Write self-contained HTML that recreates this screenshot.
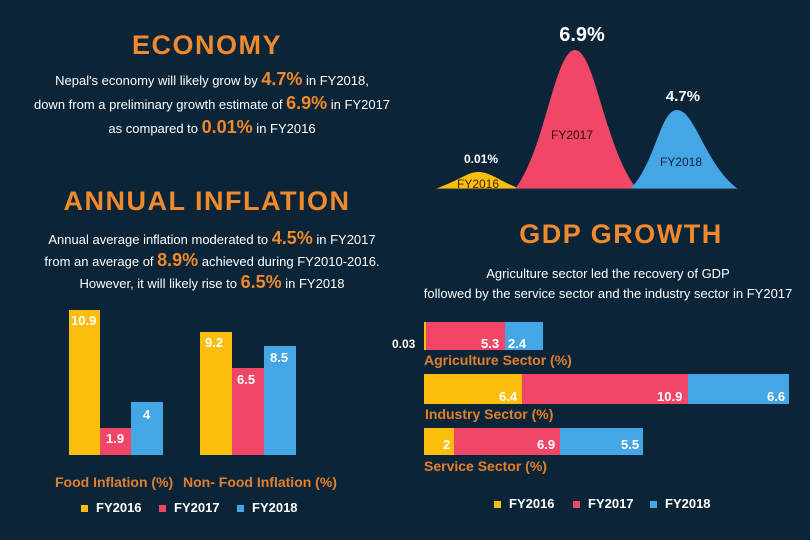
<!DOCTYPE html><html><head><style>
body{margin:0;width:810px;height:540px;background:#0c2437;font-family:"Liberation Sans",sans-serif;position:relative;overflow:hidden;color:#fff}
.a{position:absolute;white-space:nowrap}
.t{font-weight:bold;color:#f08a2c;font-size:27px;letter-spacing:1.5px;transform:translateX(-50%)}
.p{font-size:13px;transform:translateX(-50%);text-align:center}
.h{color:#f08a2c;font-weight:bold;font-size:18px}
.b{position:absolute}
.v{position:absolute;font-weight:bold;font-size:13px;color:#fff}
.c{color:#e0802e;font-weight:bold;font-size:14px}
.lg{font-weight:bold;font-size:13px}
.sq{display:inline-block;width:7px;height:7px;margin-right:8px}
</style></head><body>
<div class="a t" style="left:207px;top:30px">ECONOMY</div>
<div class="a p" style="left:212px;top:68px;line-height:22px">Nepal's economy will likely grow by <span class="h">4.7%</span> in FY2018,<br>down from a preliminary growth estimate of <span class="h">6.9%</span> in FY2017<br>as compared to <span class="h">0.01%</span> in FY2016</div>
<div class="a t" style="left:207px;top:186px">ANNUAL INFLATION</div>
<div class="a p" style="left:212px;top:228px;line-height:21px">Annual average inflation moderated to <span class="h">4.5%</span> in FY2017<br>from an average of <span class="h">8.9%</span> achieved during FY2010-2016.<br>However, it will likely rise to <span class="h">6.5%</span> in FY2018</div>

<div class="b" style="left:69px;top:310px;width:31px;height:145px;background:#fdbd0c"></div>
<div class="b" style="left:100px;top:428px;width:31px;height:27px;background:#f04766"></div>
<div class="b" style="left:131px;top:402px;width:32px;height:53px;background:#45a6e6"></div>
<div class="b" style="left:200px;top:332px;width:32px;height:123px;background:#fdbd0c"></div>
<div class="b" style="left:232px;top:368px;width:32px;height:87px;background:#f04766"></div>
<div class="b" style="left:264px;top:346px;width:32px;height:109px;background:#45a6e6"></div>
<div class="v" style="left:71px;top:313px">10.9</div>
<div class="v" style="left:106px;top:431px">1.9</div>
<div class="v" style="left:143px;top:407px">4</div>
<div class="v" style="left:205px;top:335px">9.2</div>
<div class="v" style="left:237px;top:372px">6.5</div>
<div class="v" style="left:270px;top:350px">8.5</div>
<div class="a c" style="left:55px;top:474px">Food Inflation (%)</div>
<div class="a c" style="left:183px;top:474px">Non- Food Inflation (%)</div>
<div class="a lg" style="left:81px;top:500px"><span class="sq" style="background:#fdbd0c"></span>FY2016</div>
<div class="a lg" style="left:159px;top:500px"><span class="sq" style="background:#f04766"></span>FY2017</div>
<div class="a lg" style="left:237px;top:500px"><span class="sq" style="background:#45a6e6"></span>FY2018</div>

<svg class="b" style="left:0;top:0" width="810" height="540">
<path d="M435 189 C460 180,468 172,478 172 C490 172,498 180,520 189Z" fill="#fdbd0c"/>
<path d="M515 189 C545 150,555 50,575 50 C595 50,605 150,637 189Z" fill="#f04766"/>
<path d="M630 189 C655 165,660 110,677 110 C695 110,705 165,738 189Z" fill="#45a6e6"/>
<line x1="435" y1="189" x2="738" y2="189" stroke="#1b3348" stroke-width="1"/>
</svg>
<div class="a" style="left:582px;top:24px;transform:translateX(-50%);font-weight:bold;font-size:20px">6.9%</div>
<div class="a" style="left:683px;top:88px;transform:translateX(-50%);font-weight:bold;font-size:15px">4.7%</div>
<div class="a" style="left:481px;top:152px;transform:translateX(-50%);font-weight:bold;font-size:12px">0.01%</div>
<div class="a" style="left:572px;top:128px;transform:translateX(-50%);font-size:12px;color:#2a0c14">FY2017</div>
<div class="a" style="left:681px;top:155px;transform:translateX(-50%);font-size:12px;color:#0b2336">FY2018</div>
<div class="a" style="left:478px;top:177px;transform:translateX(-50%);font-size:12px;color:#3a2a00">FY2016</div>

<div class="a t" style="left:621px;top:219px">GDP GROWTH</div>
<div class="a p" style="left:608px;top:264px;line-height:20px">Agriculture sector led the recovery of GDP<br>followed by the service sector and the industry sector in FY2017</div>

<div class="b" style="left:424px;top:322px;width:2px;height:28px;background:#fdbd0c"></div>
<div class="b" style="left:426px;top:322px;width:79px;height:28px;background:#f04766"></div>
<div class="b" style="left:505px;top:322px;width:38px;height:28px;background:#45a6e6"></div>
<div class="b" style="left:424px;top:374px;width:98px;height:30px;background:#fdbd0c"></div>
<div class="b" style="left:522px;top:374px;width:166px;height:30px;background:#f04766"></div>
<div class="b" style="left:688px;top:374px;width:101px;height:30px;background:#45a6e6"></div>
<div class="b" style="left:424px;top:428px;width:30px;height:27px;background:#fdbd0c"></div>
<div class="b" style="left:454px;top:428px;width:106px;height:27px;background:#f04766"></div>
<div class="b" style="left:560px;top:428px;width:83px;height:27px;background:#45a6e6"></div>
<div class="v" style="left:392px;top:337px;font-size:12px">0.03</div>
<div class="v" style="left:481px;top:336px">5.3</div>
<div class="v" style="left:508px;top:336px">2.4</div>
<div class="v" style="left:499px;top:389px">6.4</div>
<div class="v" style="left:657px;top:389px">10.9</div>
<div class="v" style="left:767px;top:389px">6.6</div>
<div class="v" style="left:443px;top:437px">2</div>
<div class="v" style="left:537px;top:437px">6.9</div>
<div class="v" style="left:621px;top:437px">5.5</div>
<div class="a c" style="left:424px;top:352px">Agriculture Sector (%)</div>
<div class="a c" style="left:425px;top:406px">Industry Sector (%)</div>
<div class="a c" style="left:424px;top:458px">Service Sector (%)</div>
<div class="a lg" style="left:494px;top:496px"><span class="sq" style="background:#fdbd0c"></span>FY2016</div>
<div class="a lg" style="left:573px;top:496px"><span class="sq" style="background:#f04766"></span>FY2017</div>
<div class="a lg" style="left:650px;top:496px"><span class="sq" style="background:#45a6e6"></span>FY2018</div>
</body></html>
